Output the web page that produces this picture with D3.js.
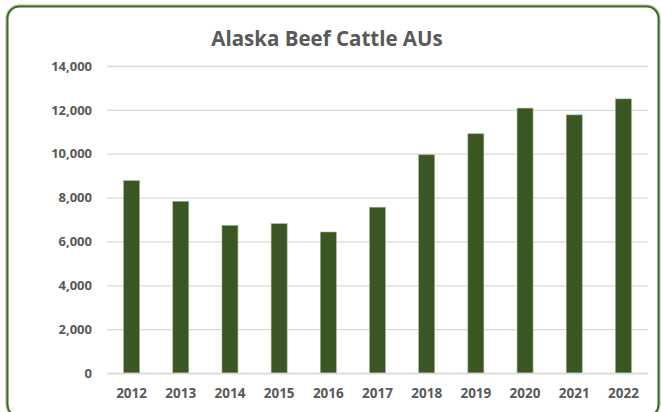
<!DOCTYPE html>
<html>
<head>
<meta charset="utf-8">
<script src="https://cdn.jsdelivr.net/npm/d3@7"></script>
<style>
  body { margin: 0; background: #fff; }
  svg { display: block; }
</style>
</head>
<body>
<div id="chart"></div>
<script>
"use strict"

// data
const years = ["2012", "2013", "2014", "2015", "2016", "2017", "2018", "2019", "2020", "2021", "2022"];
const beefAUs = [8770, 7830, 6730, 6810, 6430, 7560, 9950, 10910, 12080, 11770, 12500];
const yTicks = [0, 2000, 4000, 6000, 8000, 10000, 12000, 14000];

const W = 661, H = 412;
const margin = {top: 66, right: 13, bottom: 39, left: 107},
  width = W - margin.left - margin.right,
  height = H - margin.top - margin.bottom;

const svg = d3.select("#chart")
  .append("svg")
    .attr("width", W)
    .attr("height", H);

// frame with soft shadow
svg.append("rect")
  .attr("x", 7.5).attr("y", 6.5)
  .attr("width", 651).attr("height", 410)
  .attr("rx", 12).attr("ry", 12)
  .attr("fill", "none")
  .attr("stroke", "#a9c09a")
  .attr("stroke-width", 4);
svg.append("rect")
  .attr("x", 7.5).attr("y", 6.5)
  .attr("width", 651).attr("height", 410)
  .attr("rx", 12).attr("ry", 12)
  .attr("fill", "#fff")
  .attr("stroke", "#3e6b26")
  .attr("stroke-width", 2);

const g = svg.append("g")
  .attr("transform", "translate(" + margin.left + "," + margin.top + ")");

const x = d3.scaleBand()
  .domain(years)
  .range([0, width])
  .paddingInner(0.675)
  .paddingOuter(0.3375);

const y = d3.scaleLinear()
  .domain([0, 14000])
  .range([height, 0]);

// gridlines
g.append("g")
  .call(d3.axisLeft(y).tickValues(yTicks).tickSize(-width).tickFormat(""))
  .call(s => s.select(".domain").remove())
  .call(s => s.selectAll("line").attr("stroke", "#d9d9d9").attr("stroke-width", 1.3));

// y labels
g.append("g")
  .call(d3.axisLeft(y).tickValues(yTicks).tickSize(0).tickPadding(15).tickFormat(d3.format(",")))
  .call(s => s.select(".domain").remove())
  .call(s => s.selectAll("text")
    .attr("fill", "#595959")
    .style("font-family", "'Open Sans', sans-serif")
    .style("font-weight", "700")
    .style("font-size", "13px"));

// bars
g.selectAll(".bar")
  .data(years.map((d, i) => ({year: d, value: beefAUs[i]})))
  .enter()
  .append("rect")
    .attr("class", "bar")
    .attr("x", d => x(d.year))
    .attr("y", d => y(d.value))
    .attr("width", x.bandwidth())
    .attr("height", d => height - y(d.value))
    .attr("fill", "#3a5723")
    .attr("stroke", "#9fb38f")
    .attr("stroke-width", 0.6);

// x axis
g.append("g")
  .attr("transform", "translate(0," + height + ")")
  .call(d3.axisBottom(x).tickSize(0).tickPadding(15))
  .call(s => s.select(".domain").attr("stroke", "#d9d9d9").attr("stroke-width", 1.3))
  .call(s => s.selectAll("text")
    .attr("fill", "#595959")
    .style("font-family", "'Open Sans', sans-serif")
    .style("font-weight", "700")
    .style("font-size", "13.5px"));

// title
svg.append("text")
  .attr("x", 327)
  .attr("y", 46)
  .attr("text-anchor", "middle")
  .attr("fill", "#595959")
  .style("font-family", "'Open Sans', sans-serif")
  .style("font-weight", "700")
  .style("font-size", "20.5px")
  .text("Alaska Beef Cattle AUs");
</script>
</body>
</html>
